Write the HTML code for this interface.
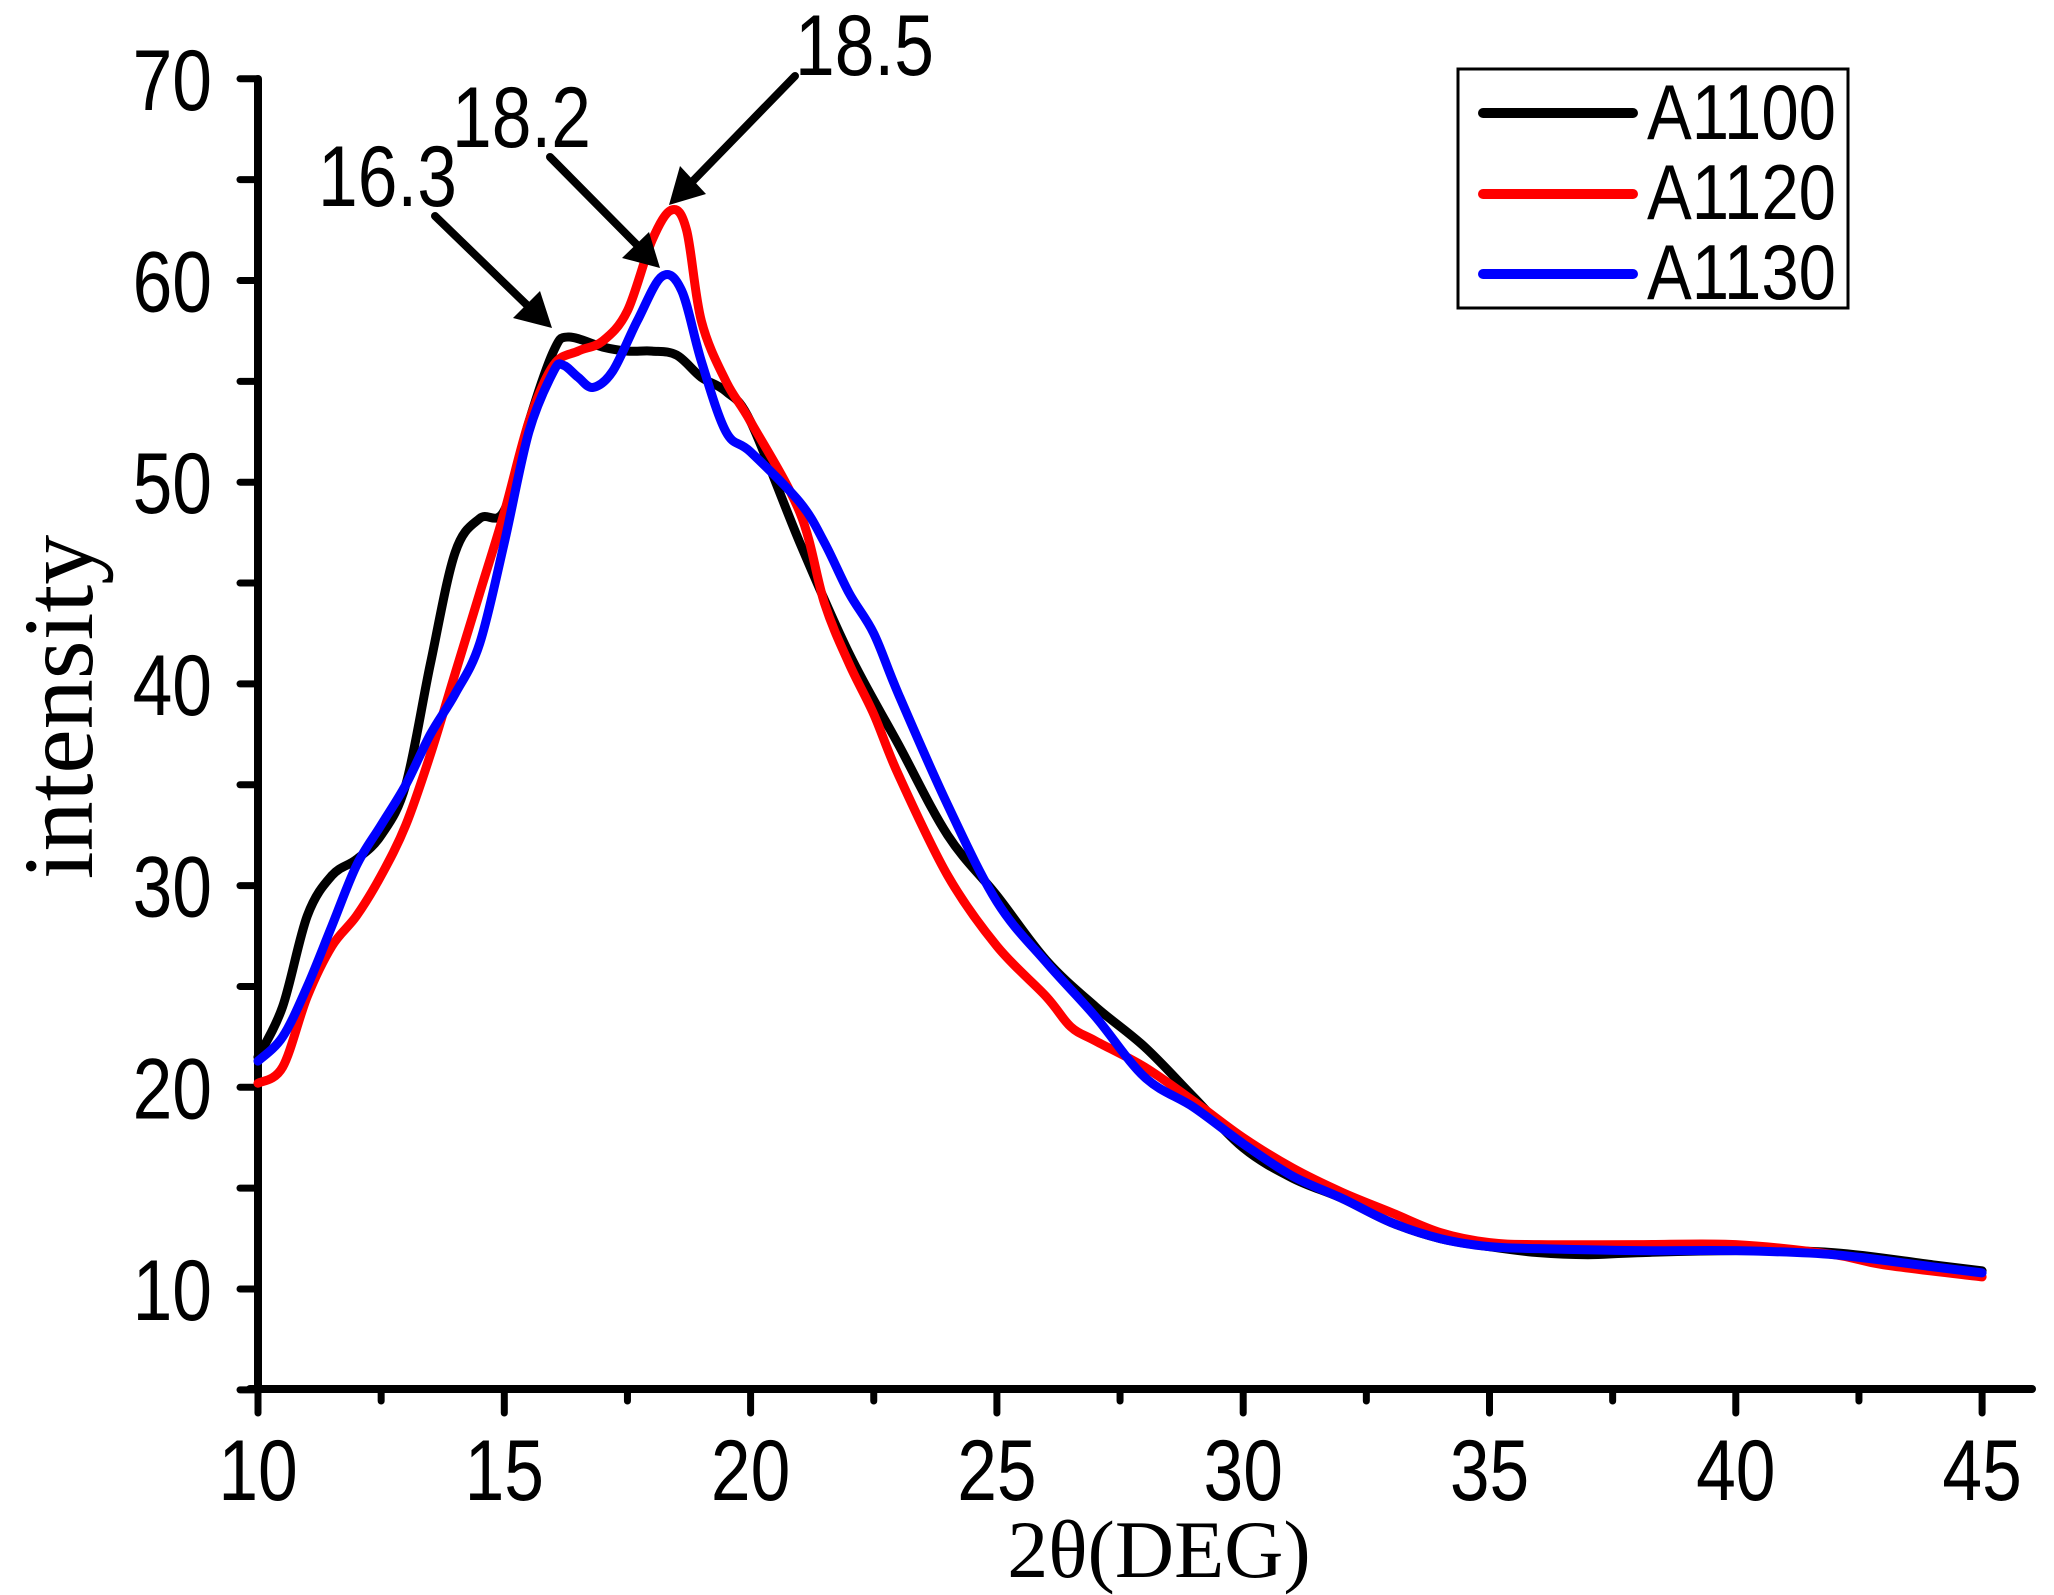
<!DOCTYPE html>
<html><head><meta charset="utf-8"><style>
html,body{margin:0;padding:0;background:#fff;}
svg{display:block;}
text{font-family:"Liberation Sans",sans-serif;fill:#000;}
.serif{font-family:"Liberation Serif",serif;}
</style></head><body>
<svg id="s" width="2054" height="1595" viewBox="0 0 2054 1595" xmlns="http://www.w3.org/2000/svg">
<g id="axes" stroke="#000" stroke-width="8" stroke-linecap="round" fill="none">
<line x1="258" y1="79" x2="258" y2="1389"/>
<line x1="250" y1="1389" x2="2032" y2="1389"/>
</g>
<g id="ticks" stroke="#000" stroke-width="7" stroke-linecap="round"></g>
<g id="labels" font-size="86"></g>
<g id="series" fill="none" stroke-width="9" stroke-linejoin="round" stroke-linecap="round"></g>
<g stroke="#000" stroke-width="8" stroke-linecap="round">
<line x1="435" y1="216" x2="530" y2="308"/>
<line x1="550" y1="157" x2="640" y2="248"/>
<line x1="795" y1="76" x2="690" y2="184"/>
</g>
<g fill="#000">
<polygon points="552,328 513,318 540,291"/>
<polygon points="660,268 622,258 649,232"/>
<polygon points="669,205 680,166 706,194"/>
</g>
<text font-size="86" transform="translate(318,206) scale(0.83,1)">16.3</text>
<text font-size="86" transform="translate(452,147) scale(0.83,1)">18.2</text>
<text font-size="86" transform="translate(795,75) scale(0.83,1)">18.5</text>
<rect x="1458" y="69" width="390" height="239" fill="#fff" stroke="#000" stroke-width="3"/>
<g stroke-width="10" stroke-linecap="round">
<line x1="1483" y1="113" x2="1633" y2="113" stroke="#000"/>
<line x1="1483" y1="194" x2="1633" y2="194" stroke="#f00"/>
<line x1="1483" y1="274" x2="1633" y2="274" stroke="#00f"/>
</g>
<text font-size="78" transform="translate(1647,139) scale(0.86,1)">A1100</text>
<text font-size="78" transform="translate(1647,219) scale(0.86,1)">A1120</text>
<text font-size="78" transform="translate(1647,299) scale(0.86,1)">A1130</text>
<text class="serif" x="0" y="0" font-size="100" transform="translate(92,707) rotate(-90)" text-anchor="middle">intensity</text>
<text class="serif" x="1159" y="1577" font-size="82" text-anchor="middle">2θ(DEG)</text>
</svg>
<script>
var NS="http://www.w3.org/2000/svg";
function X(v){return 258+(v-10)*49.26;}
function Y(v){return 1289-(v-10)*20.17;}
function el(p,n,a,t){var e=document.createElementNS(NS,n);for(var k in a)e.setAttribute(k,a[k]);if(t!=null)e.textContent=t;p.appendChild(e);return e;}
var tk=document.getElementById('ticks'),lb=document.getElementById('labels');
for(var v=5;v<=70;v+=5){var y=Y(v);el(tk,'line',{x1:240,y1:y,x2:258,y2:y});
 if(v%10==0)el(lb,'text',{transform:'translate(212,'+(y+31)+') scale(0.83,1)','text-anchor':'end'},v);}
for(var v=10;v<=45;v+=2.5){var x=X(v);var maj=(v%5==0);el(tk,'line',{x1:x,y1:1389,x2:x,y2:maj?1413:1401});
 if(maj)el(lb,'text',{transform:'translate('+x+',1500) scale(0.83,1)','text-anchor':'middle'},v);}
var data={
'#000':[[10,21.5],[10.5,24],[11,28.5],[11.5,30.5],[12,31.3],[12.5,32.5],[13,35],[13.5,41],[14,46.5],[14.5,48.2],[15,48.6],[15.5,53],[16,56.5],[16.3,57.2],[17,56.7],[17.5,56.5],[18,56.5],[18.5,56.3],[19,55.2],[19.5,54.5],[20,53],[21,47],[22,41.5],[23,37],[24,32.5],[25,29.5],[26,26.3],[27,24],[28,22],[29,19.5],[30,17],[31,15.5],[32,14.5],[33,13.3],[34,12.5],[35,12.1],[36,11.8],[37,11.7],[38,11.8],[40,11.9],[42,11.8],[44,11.2],[45,10.9]],
'#f00':[[10,20.2],[10.5,21],[11,24.5],[11.5,27],[12,28.5],[12.5,30.5],[13,33],[13.5,36.5],[14,40.5],[14.5,44.5],[15,48.5],[15.5,53],[16,55.8],[16.5,56.5],[17,57],[17.5,58.5],[18,62],[18.4,63.5],[18.7,62.5],[19,58],[19.5,55],[20,53],[21,48.5],[21.5,44],[22,41],[22.5,38.5],[23,35.5],[24,30.5],[25,27],[26,24.5],[26.5,23],[27,22.3],[28,21],[29,19.3],[30,17.5],[31,16],[32,14.8],[33,13.8],[34,12.8],[35,12.3],[36,12.2],[38,12.2],[40,12.2],[42,11.7],[43,11.2],[45,10.6]],
'#00f':[[10,21.3],[10.5,22.5],[11,25],[11.5,28],[12,31],[12.5,33],[13,35],[13.5,37.5],[14,39.5],[14.5,42],[15,47],[15.5,52.5],[16,55.5],[16.2,55.8],[16.5,55.2],[16.8,54.7],[17.2,55.5],[17.7,58],[18.2,60.2],[18.6,59.5],[19,56],[19.5,52.5],[20,51.5],[21,49],[21.5,47],[22,44.5],[22.5,42.5],[23,39.5],[24,34],[25,29.2],[26,26.2],[27,23.5],[28,20.5],[29,19],[30,17.2],[31,15.6],[32,14.5],[33,13.3],[34,12.5],[35,12.1],[36,12],[38,11.9],[40,11.9],[42,11.7],[44,11.1],[45,10.8]]};
var sg=document.getElementById('series');
['#000','#f00','#00f'].forEach(function(c){
 var p=data[c].map(function(d){return [X(d[0]),Y(d[1])];});
 var s='M'+p[0][0]+','+p[0][1];
 for(var i=0;i<p.length-1;i++){var p0=p[i>0?i-1:i],p1=p[i],p2=p[i+1],p3=p[i+2<p.length?i+2:i+1];
  var c1x=p1[0]+(p2[0]-p0[0])/6,c1y=p1[1]+(p2[1]-p0[1])/6,c2x=p2[0]-(p3[0]-p1[0])/6,c2y=p2[1]-(p3[1]-p1[1])/6;
  s+=' C'+c1x+','+c1y+' '+c2x+','+c2y+' '+p2[0]+','+p2[1];}
 el(sg,'path',{d:s,stroke:c});
});
</script>
</body></html>
